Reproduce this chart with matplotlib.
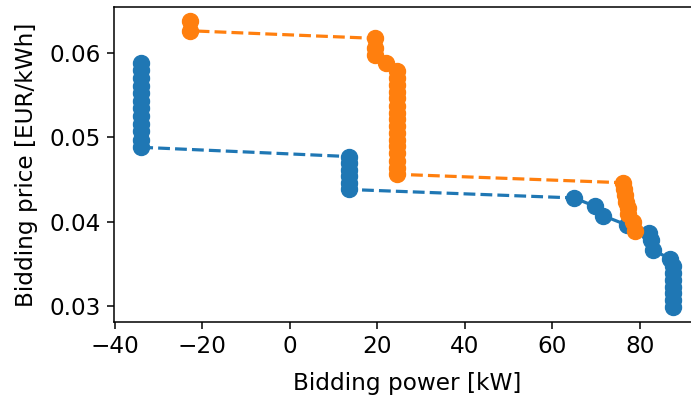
import matplotlib
matplotlib.use("Agg")
import matplotlib.pyplot as plt

# Bidding curves: power [kW] vs price [EUR/kWh]
blue_power = [-34.0] * 12 + [13.6] * 6 + [65.0, 69.8, 71.6, 77.0, 82.1, 82.6, 83.1, 86.9] + [87.7] * 7
blue_price = [0.0588, 0.0579, 0.0570, 0.0561, 0.0552, 0.0543, 0.0534, 0.0525, 0.0516, 0.0507, 0.0497, 0.0488,
              0.0477, 0.0469, 0.0461, 0.0454, 0.0446, 0.0438,
              0.0428, 0.0418, 0.0407, 0.0396, 0.0387, 0.0378, 0.0366, 0.0356,
              0.0347, 0.0339, 0.0331, 0.0323, 0.0315, 0.0307, 0.0299]

orange_power = [-22.8, -22.8, 19.5, 19.5, 19.5, 22.1] + [24.6] * 16 + [76.2, 76.4, 76.6, 76.8, 77.2, 77.4, 78.4, 78.8]
orange_price = [0.0637, 0.0626, 0.0617, 0.0606, 0.0597, 0.0588,
                0.0578, 0.0570, 0.0562, 0.0554, 0.0546, 0.0537, 0.0529, 0.0521,
                0.0513, 0.0505, 0.0497, 0.0489, 0.0481, 0.0472, 0.0464, 0.0456,
                0.0446, 0.0438, 0.0431, 0.0423, 0.0416, 0.0409, 0.0399, 0.0389]

x_ticks = [-40, -20, 0, 20, 40, 60, 80]
y_ticks = [0.03, 0.04, 0.05, 0.06]

plt.rcParams['font.family'] = ['DejaVu Sans']
plt.rcParams['font.size'] = 16.7

W, H = 691, 396
fig = plt.figure(figsize=(W / 100, H / 100), dpi=100)
left_px, top_px, bottom_px = 114.3, 7.3, 322.3
ax = fig.add_axes([left_px / W, 1 - bottom_px / H, 1 - left_px / W, (bottom_px - top_px) / H])

ax.plot(blue_power, blue_price, '--o', color='#1f77b4', lw=2.3, markersize=11.5)
ax.plot(orange_power, orange_price, '--o', color='#ff7f0e', lw=2.3, markersize=11.5)

# plot area runs past the right edge of the canvas
ax.set_xlim(-40.1, 91.7)
ax.set_ylim(0.02807, 0.06538)
ax.spines['right'].set_visible(False)

ax.set_xticks(x_ticks)
ax.set_yticks(y_ticks)
ax.set_xlabel('Bidding power [kW]', fontsize=16.7)
ax.set_ylabel('Bidding price [EUR/kWh]', fontsize=16.7)
ax.tick_params(labelsize=16.7, length=5, width=1.1, pad=4.5)
for s in ax.spines.values():
    s.set_linewidth(1.1)

# centre the x label on the full plot width (which extends beyond the canvas)
ax.xaxis.set_label_coords((407 - left_px) / (W - left_px), -0.158)
ax.yaxis.labelpad = 8.5

fig.savefig('out.png', dpi=100)
